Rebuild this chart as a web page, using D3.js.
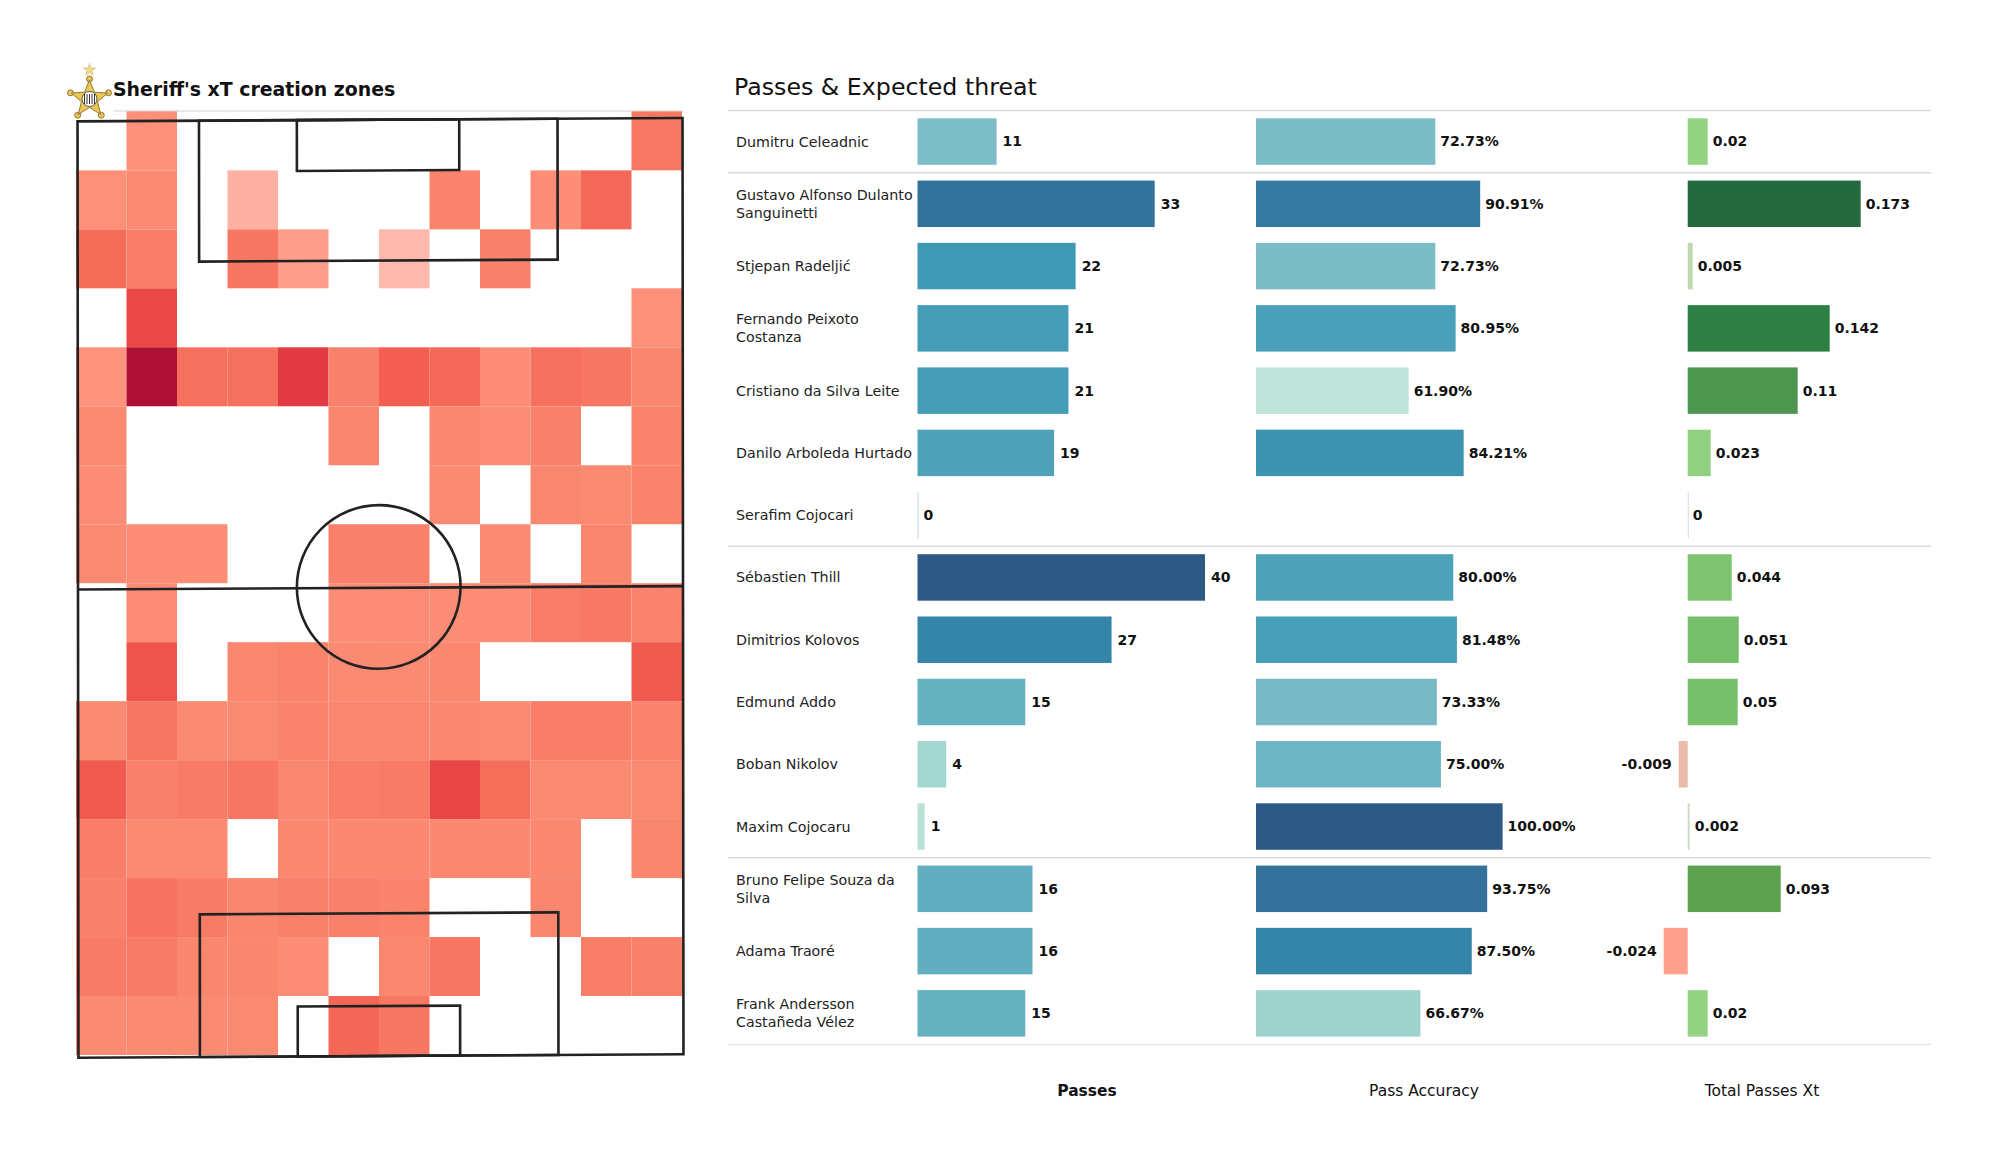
<!DOCTYPE html>
<html>
<head>
<meta charset="utf-8">
<script src="https://cdn.jsdelivr.net/npm/d3@7"></script>
<style>
  body { margin: 0; background: #fff; }
  text { font-family: "DejaVu Sans", sans-serif; fill: #111; }
  .name { font-size: 14.25px; fill: #222; }
  .val { font-size: 14px; font-weight: bold; }
  .foot { font-size: 15.5px; }
</style>
</head>
<body>
<div id="chart"></div>
<script>
var players = [
  ["Dumitru Celeadnic"],
  ["Gustavo Alfonso Dulanto", "Sanguinetti"],
  ["Stjepan Radeljić"],
  ["Fernando Peixoto", "Costanza"],
  ["Cristiano da Silva Leite"],
  ["Danilo Arboleda Hurtado"],
  ["Serafim Cojocari"],
  ["Sébastien Thill"],
  ["Dimitrios Kolovos"],
  ["Edmund Addo"],
  ["Boban Nikolov"],
  ["Maxim Cojocaru"],
  ["Bruno Felipe Souza da", "Silva"],
  ["Adama Traoré"],
  ["Frank Andersson", "Castañeda Vélez"]
];
var passes = [11, 33, 22, 21, 21, 19, 0, 40, 27, 15, 4, 1, 16, 16, 15];
var passAccuracy = [72.73, 90.91, 72.73, 80.95, 61.90, 84.21, null, 80.00, 81.48, 73.33, 75.00, 100.00, 93.75, 87.50, 66.67];
var passesXt = [0.02, 0.173, 0.005, 0.142, 0.11, 0.023, 0, 0.044, 0.051, 0.05, -0.009, 0.002, 0.093, -0.024, 0.02];
var columnTitles = ["Passes", "Pass Accuracy", "Total Passes Xt"];
var groupStarts = [0, 1, 7, 12, 15];

var zoneRows = [
  [null, .25, null, null, null, null, null, null, null, null, null, .42],
  [.25, .3, null, .07, null, null, null, .35, null, .27, .52, null],
  [.5, .38, null, .43, .15, null, .04, null, .37, null, null, null],
  [null, .68, null, null, null, null, null, null, null, null, null, .25],
  [.22, 1, .47, .47, .76, .36, .57, .52, .27, .47, .43, .33],
  [.3, null, null, null, null, .33, null, .32, .28, .36, null, .35],
  [.28, null, null, null, null, null, null, .3, null, .32, .3, .35],
  [.3, .27, .27, null, null, .37, .37, null, .3, null, .33, null],
  [null, .28, null, null, null, .27, .28, .28, .28, .38, .41, .35],
  [null, .63, null, .32, .35, .3, .3, .32, null, null, null, .6],
  [.3, .43, .3, .3, .35, .32, .32, .32, .3, .38, .38, .35],
  [.6, .36, .4, .43, .32, .38, .4, .7, .49, .3, .3, .3],
  [.38, .3, .3, null, .31, .31, .31, .31, .31, .31, null, .33],
  [.36, .45, .4, .33, .37, .37, .35, null, null, .33, null, null],
  [.4, .4, .33, .33, .28, null, .32, .43, null, null, .38, .36],
  [.3, .3, .3, .3, null, .53, .43, null, null, null, null, null]
];

var w = 2000, h = 1175;
var svg = d3.select("#chart").append("svg").attr("width", w).attr("height", h);

/* heat map */
var zoneX = d3.scaleBand().domain(d3.range(12)).range([76, 682]);
var zoneY = d3.scaleBand().domain(d3.range(16)).range([111.4, 1055]);
var zoneColor = d3.scaleLinear()
  .domain([0, .1, .2, .3, .4, .5, .6, .7, .8, 1])
  .range(["#ffc4b8", "#fea899", "#fd9580", "#fb8a72", "#f87b66", "#f56c59", "#f15a4e", "#e94546", "#dc3340", "#ae1038"]);

svg.append("line").attr("x1", 113).attr("x2", 683).attr("y1", 111).attr("y2", 111)
  .attr("stroke", "#e2e2e2").attr("stroke-width", 1.5);

zoneRows.forEach(function (row, r) {
  svg.append("g").selectAll("rect")
    .data(row.map(function (v, c) { return { v: v, c: c }; }).filter(function (d) { return d.v !== null; }))
    .enter().append("rect")
    .attr("x", function (d) { return zoneX(d.c); })
    .attr("y", zoneY(r))
    .attr("width", zoneX.bandwidth())
    .attr("height", zoneY.bandwidth())
    .attr("fill", function (d) { return zoneColor(d.v); });
});

/* pitch lines, metres on a 68 x 105 pitch. the picture is a tiny bit skewed */
var pitchX = d3.scaleLinear().domain([0, 68]).range([78, 683]);
var pitchY = d3.scaleLinear().domain([0, 105]).range([119.7, 1056]);
var pitch = svg.append("g")
  .attr("transform", "translate(380,588) matrix(1,-0.0056,0.001,1,0,0) translate(-380,-588)")
  .attr("fill", "none").attr("stroke", "#222").attr("stroke-width", 2.6);

function pitchBox(x0, x1, y0, y1) {
  pitch.append("rect")
    .attr("x", pitchX(x0)).attr("y", pitchY(y0))
    .attr("width", pitchX(x1) - pitchX(x0)).attr("height", pitchY(y1) - pitchY(y0));
}
pitchBox(0, 68, 0, 105);
pitchBox(13.65, 53.95, 0, 15.8);
pitchBox(24.65, 42.9, 0, 5.7);
pitchBox(13.65, 53.95, 89, 105);
pitchBox(24.65, 42.9, 99.4, 105);
pitch.append("line")
  .attr("x1", pitchX(0)).attr("x2", pitchX(68))
  .attr("y1", pitchY(52.5)).attr("y2", pitchY(52.5));
pitch.append("circle")
  .attr("cx", pitchX(33.8)).attr("cy", pitchY(52.4))
  .attr("r", pitchX(9.2) - pitchX(0));

/* badge */
var badge = svg.append("g").attr("transform", "translate(89.5,99)");
var gold = "#ecc650", goldEdge = "#8d7a3c";
var starTips = d3.range(5).map(function (i) { return i * 2 * Math.PI / 5; });
var starLine = d3.lineRadial().curve(d3.curveLinearClosed);
var starPoints = [];
starTips.forEach(function (a) {
  starPoints.push([a, 19]);
  starPoints.push([a + Math.PI / 5, 8.5]);
});
starTips.forEach(function (a) {
  badge.append("circle").attr("cx", 20 * Math.sin(a)).attr("cy", -20 * Math.cos(a)).attr("r", 3)
    .attr("fill", gold).attr("stroke", goldEdge).attr("stroke-width", 1);
});
badge.append("path").attr("d", starLine(starPoints))
  .attr("fill", gold).attr("stroke", goldEdge).attr("stroke-width", 1);
badge.append("path").attr("d", d3.symbol(d3.symbolStar, 50)())
  .attr("transform", "translate(0,-29)").attr("fill", "#f0d98a").attr("stroke", "#cdbb80").attr("stroke-width", .6);
badge.append("circle").attr("r", 7.5).attr("fill", "#fff").attr("stroke", "#555").attr("stroke-width", 1);
d3.range(-5, 6, 2.5).forEach(function (x) {
  badge.append("line").attr("x1", x).attr("x2", x).attr("y1", -5).attr("y2", 5)
    .attr("stroke", "#333").attr("stroke-width", 1);
});

/* titles */
svg.append("text").attr("x", 113).attr("y", 95.5)
  .attr("font-size", 18.9).attr("font-weight", "bold").text("Sheriff's xT creation zones");
svg.append("text").attr("x", 734).attr("y", 94.5)
  .attr("font-size", 23.7).text("Passes & Expected threat");

/* table rows */
var rowY = d3.scaleBand().domain(d3.range(players.length)).range([118.3, 1036.6]).paddingInner(0.2537);
var rowGap = rowY.step() - rowY.bandwidth();

svg.append("g").selectAll("line")
  .data(groupStarts)
  .enter().append("line")
  .attr("x1", 728).attr("x2", 1931)
  .attr("y1", dividerY).attr("y2", dividerY)
  .attr("stroke", function (d) { return d === players.length ? "#e6e6e6" : "#dadada"; })
  .attr("stroke-width", 1.5);

function dividerY(i) {
  return i === players.length ? rowY(i - 1) + rowY.bandwidth() + rowGap / 2 : rowY(i) - rowGap / 2;
}

svg.append("g").selectAll("text")
  .data(players)
  .enter().append("text")
  .attr("class", "name")
  .each(function (lines, i) {
    var mid = rowY(i) + rowY.bandwidth() / 2;
    d3.select(this).selectAll("tspan")
      .data(lines)
      .enter().append("tspan")
      .attr("x", 736)
      .attr("y", function (d, j) { return mid + (j - (lines.length - 1) / 2) * 17.8; })
      .attr("dy", "0.35em")
      .text(function (d) { return d; });
  });

var blues = d3.scaleLinear()
  .domain([0, .125, .275, .375, .475, .55, .675, .825, 1])
  .range(["#bfe5da", "#9dd3cc", "#7dbdc7", "#66b1c0", "#4ea3ba", "#3f99b5", "#3585a9", "#33729b", "#2c5985"]);
var xtColor = d3.scaleLinear()
  .domain([-0.024, -0.009, 0, 0.002, 0.005, 0.02, 0.05, 0.093, 0.11, 0.142, 0.173])
  .range(["#fea08d", "#e9bdaa", "#dedede", "#cfdcc5", "#bcd9b0", "#93d383", "#77bf6b", "#5ba150", "#4c964f", "#2e7f44", "#25693e"]);

var accDomain = d3.extent(passAccuracy);
var passT = d3.scaleLinear().domain([0, d3.max(passes)]).range([0, 1]);
var accT = d3.scaleLinear().domain(accDomain).range([0, 1]);

drawColumn(passes, d3.scaleLinear().domain([0, 40]).range([917.5, 1205]),
  function (v) { return blues(passT(v)); }, function (v) { return v; }, 6);
drawColumn(passAccuracy, d3.scaleLinear().domain([0, 100]).range([1256, 1502.6]),
  function (v) { return blues(accT(v)); }, function (v) { return v.toFixed(2) + "%"; }, 5);
drawColumn(passesXt, d3.scaleLinear().domain([0, 0.173]).range([1687.7, 1860.7]),
  xtColor, function (v) { return v; }, 5);

function drawColumn(values, x, color, fmt, pad) {
  var rows = values.map(function (v, i) { return { v: v, i: i }; })
    .filter(function (d) { return d.v !== null; });
  var g = svg.append("g");

  g.selectAll("rect")
    .data(rows)
    .enter().append("rect")
    .attr("x", function (d) { return Math.min(x(0), x(d.v)); })
    .attr("y", function (d) { return rowY(d.i); })
    .attr("width", function (d) { return Math.max(Math.abs(x(d.v) - x(0)), 1.2); })
    .attr("height", rowY.bandwidth())
    .attr("fill", function (d) { return color(d.v); });

  g.selectAll("text")
    .data(rows)
    .enter().append("text")
    .attr("class", "val")
    .attr("x", function (d) { return d.v < 0 ? x(d.v) - pad - 2 : x(d.v) + pad; })
    .attr("y", function (d) { return rowY(d.i) + rowY.bandwidth() / 2; })
    .attr("dy", "0.35em")
    .attr("text-anchor", function (d) { return d.v < 0 ? "end" : "start"; })
    .text(function (d) { return fmt(d.v); });
}

/* column titles */
var footX = [1087, 1424, 1762];
svg.append("g").selectAll("text")
  .data(columnTitles)
  .enter().append("text")
  .attr("class", "foot")
  .attr("x", function (d, i) { return footX[i]; })
  .attr("y", 1096)
  .attr("text-anchor", "middle")
  .attr("font-weight", function (d, i) { return i === 0 ? "bold" : "normal"; })
  .text(function (d) { return d; });
</script>
</body>
</html>
